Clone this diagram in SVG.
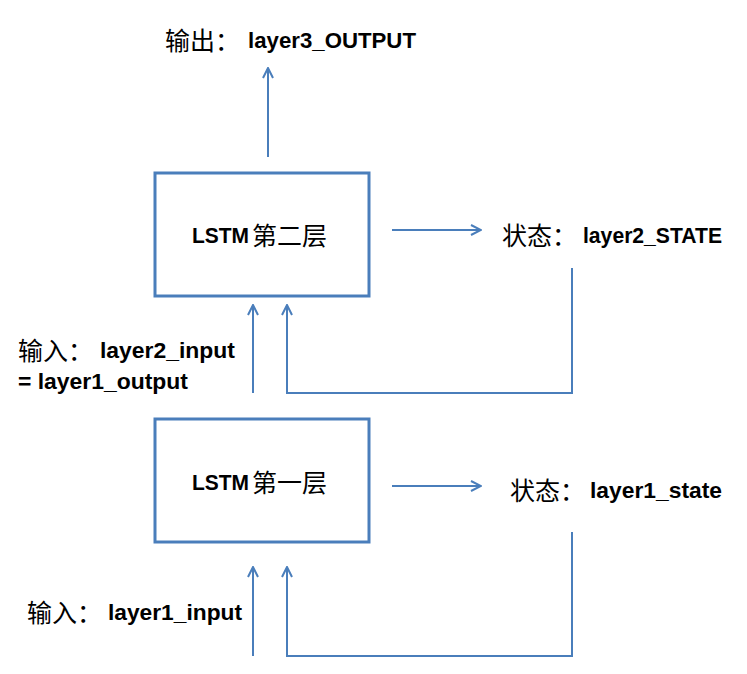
<svg xmlns="http://www.w3.org/2000/svg" width="747" height="674" viewBox="0 0 747 674">
<style>
.box{fill:#fff;stroke:#4a7ebb;stroke-width:3}
.ln{fill:none;stroke:#4a7ebb;stroke-width:2}
.cn{font-family:"Noto Sans CJK SC","Noto Sans CJK TC",sans-serif;font-size:25px;fill:#000}
.la{font-family:"Liberation Sans",Arial,sans-serif;font-size:22px;font-weight:bold;fill:#000}
</style>
<defs>
<marker id="ah" viewBox="0 0 12 12" refX="11" refY="6" markerWidth="12" markerHeight="12" markerUnits="userSpaceOnUse" orient="auto">
<polyline points="1,1 11,6 1,11" fill="none" stroke="#4a7ebb" stroke-width="2"/>
</marker>
</defs>
<rect width="747" height="674" fill="#fff"/>
<g id="output-label">
<text x="165" y="50" class="cn">输出：</text>
<text x="248" y="48" class="la" textLength="168" lengthAdjust="spacingAndGlyphs">layer3_OUTPUT</text>
</g>
<g id="lstm2">
<rect x="155" y="173" width="214" height="123" class="box"/>
<text x="192" y="243" class="la" textLength="57" lengthAdjust="spacingAndGlyphs">LSTM</text>
<text x="252" y="245" class="cn">第二层</text>
</g>
<g id="state2">
<text x="502" y="245" class="cn">状态：</text>
<text x="583" y="243" class="la" textLength="139" lengthAdjust="spacingAndGlyphs">layer2_STATE</text>
</g>
<g id="input2-label">
<text x="18" y="360" class="cn">输入：</text>
<text x="100" y="358" class="la" textLength="135" lengthAdjust="spacingAndGlyphs">layer2_input</text>
<text x="18" y="389" class="la" textLength="170" lengthAdjust="spacingAndGlyphs">= layer1_output</text>
</g>
<g id="lstm1">
<rect x="155" y="419" width="214" height="123" class="box"/>
<text x="192" y="490" class="la" textLength="57" lengthAdjust="spacingAndGlyphs">LSTM</text>
<text x="252" y="492" class="cn">第一层</text>
</g>
<g id="state1">
<text x="510" y="500" class="cn">状态：</text>
<text x="590" y="498" class="la" textLength="132" lengthAdjust="spacingAndGlyphs">layer1_state</text>
</g>
<g id="input1-label">
<text x="27" y="622" class="cn">输入：</text>
<text x="108" y="620" class="la" textLength="134" lengthAdjust="spacingAndGlyphs">layer1_input</text>
</g>
<g id="connectors">
<line x1="268" y1="157" x2="268" y2="68" class="ln" marker-end="url(#ah)"/>
<line x1="392" y1="230" x2="481" y2="230" class="ln" marker-end="url(#ah)"/>
<line x1="253" y1="393" x2="253" y2="305" class="ln" marker-end="url(#ah)"/>
<polyline points="572,268 572,393 287,393 287,305" class="ln" marker-end="url(#ah)"/>
<line x1="392" y1="486" x2="481" y2="486" class="ln" marker-end="url(#ah)"/>
<line x1="253" y1="656" x2="253" y2="567" class="ln" marker-end="url(#ah)"/>
<polyline points="572,532 572,656 287,656 287,567" class="ln" marker-end="url(#ah)"/>
</g>
</svg>
